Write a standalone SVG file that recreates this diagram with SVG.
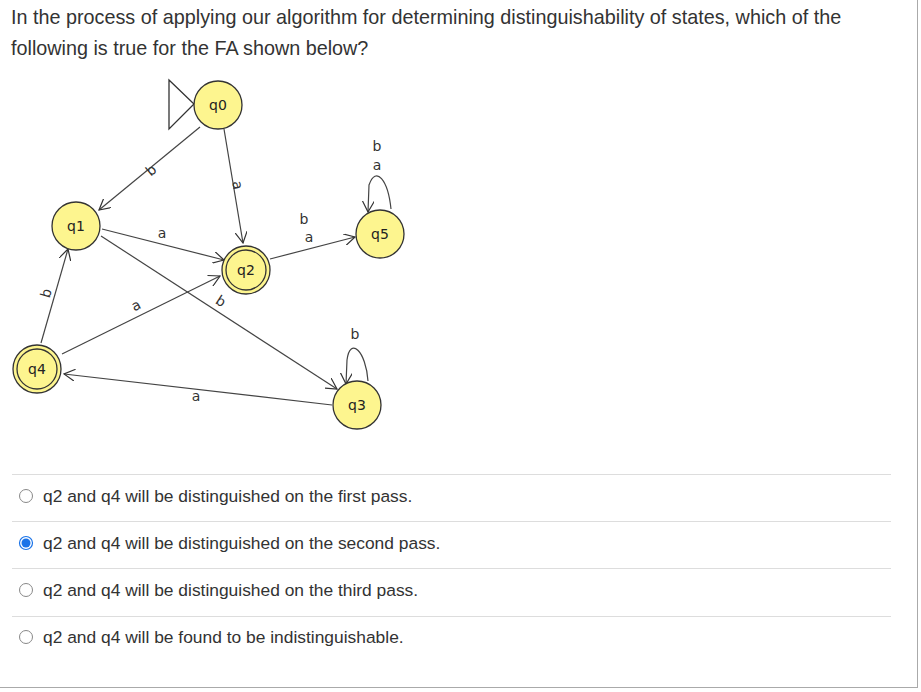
<svg xmlns="http://www.w3.org/2000/svg" width="921" height="692" viewBox="0 0 921 692">
<defs>
<marker id="ar" viewBox="0 0 12 12" refX="11" refY="6" markerWidth="12" markerHeight="12" markerUnits="userSpaceOnUse" orient="auto"><path d="M0,0 L11,6 L0,12" fill="none" stroke="#333" stroke-width="1.2"/></marker>
</defs>
<style>
.q{font-family:"Liberation Sans",Arial,sans-serif;font-size:19.8px;fill:#333}
.o{font-family:"Liberation Sans",Arial,sans-serif;font-size:17.4px;fill:#333}
.st{fill:#fdf58f;stroke:#333;stroke-width:1.3}
.nl{font-family:"DejaVu Sans",sans-serif;font-size:14px;fill:#222;text-anchor:middle}
.el{font-family:"DejaVu Sans",sans-serif;font-size:14px;fill:#333;text-anchor:middle}
.e{fill:none;stroke:#444;stroke-width:1.2;marker-end:url(#ar)}
.sep{stroke:#ddd;stroke-width:1}
.rb{fill:#fff;stroke:#888;stroke-width:1}
</style>
<rect width="921" height="692" fill="#fff"/>
<line x1="917.5" y1="0" x2="917.5" y2="687.5" stroke="#aaa"/>
<line x1="0" y1="687.5" x2="918" y2="687.5" stroke="#aaa"/>
<text class="q" x="11" y="24">In the process of applying our algorithm for determining distinguishability of states, which of the</text>
<text class="q" x="11" y="55">following is true for the FA shown below?</text>
<g id="connectors">
<polygon points="169,80 194,104 169,129" fill="none" stroke="#333" stroke-width="1.3"/>
<line class="e" x1="200" y1="127" x2="99" y2="210"/>
<line class="e" x1="224" y1="129" x2="243" y2="243"/>
<line class="e" x1="102" y1="229" x2="224" y2="260"/>
<line class="e" x1="101" y1="236" x2="337" y2="389"/>
<line class="e" x1="41" y1="343" x2="68" y2="249"/>
<line class="e" x1="62" y1="354" x2="220" y2="276"/>
<line class="e" x1="332" y1="405" x2="64" y2="374"/>
<line class="e" x1="270" y1="259" x2="355" y2="237"/>
<path class="e" d="M391,209 C388,180 376,165 369,185 L368,212"/>
<path class="e" d="M368,381 C366,351 350,336 347,360 L346,384"/>
<text class="el" transform="translate(151,170) rotate(-40)" dy="5">b</text>
<text class="el" transform="translate(238,185) rotate(80)" dy="5">a</text>
<text class="el" x="162" y="238">a</text>
<text class="el" transform="translate(221,301) rotate(33)" dy="5">b</text>
<text class="el" transform="translate(46,293) rotate(-74)" dy="5">b</text>
<text class="el" transform="translate(136,305) rotate(-26)" dy="5">a</text>
<text class="el" x="196" y="401">a</text>
<text class="el" x="304" y="224">b</text>
<text class="el" x="309" y="242">a</text>
<text class="el" x="377" y="151">b</text>
<text class="el" x="377" y="170">a</text>
<text class="el" x="355" y="339">b</text>
</g>
<g id="q0"><circle class="st" cx="218" cy="105" r="24"/><text class="nl" x="218" y="110">q0</text></g>
<g id="q1"><circle class="st" cx="76" cy="226" r="24"/><text class="nl" x="76" y="231">q1</text></g>
<g id="q2"><circle class="st" cx="246" cy="270" r="24"/><circle cx="246" cy="270" r="20" fill="none" stroke="#333" stroke-width="1.3"/><text class="nl" x="246" y="275">q2</text></g>
<g id="q5"><circle class="st" cx="380" cy="234" r="24"/><text class="nl" x="380" y="239">q5</text></g>
<g id="q4"><circle class="st" cx="37" cy="369" r="24"/><circle cx="37" cy="369" r="20" fill="none" stroke="#333" stroke-width="1.3"/><text class="nl" x="37" y="374">q4</text></g>
<g id="q3"><circle class="st" cx="357" cy="405" r="24"/><text class="nl" x="357" y="410">q3</text></g>
<g id="options">
<line class="sep" x1="12" y1="474.5" x2="891" y2="474.5"/>
<line class="sep" x1="12" y1="521.5" x2="891" y2="521.5"/>
<line class="sep" x1="12" y1="568.5" x2="891" y2="568.5"/>
<line class="sep" x1="12" y1="616.5" x2="891" y2="616.5"/>
<circle class="rb" cx="26" cy="496" r="6.5"/>
<text class="o" x="43" y="502">q2 and q4 will be distinguished on the first pass.</text>
<circle cx="26" cy="543" r="6.5" fill="#fff" stroke="#1a73e8" stroke-width="1.2"/>
<circle cx="26" cy="543" r="4.5" fill="#1a73e8"/>
<text class="o" x="43" y="549">q2 and q4 will be distinguished on the second pass.</text>
<circle class="rb" cx="26" cy="590" r="6.5"/>
<text class="o" x="43" y="596">q2 and q4 will be distinguished on the third pass.</text>
<circle class="rb" cx="26" cy="637" r="6.5"/>
<text class="o" x="43" y="643">q2 and q4 will be found to be indistinguishable.</text>
</g>
</svg>
